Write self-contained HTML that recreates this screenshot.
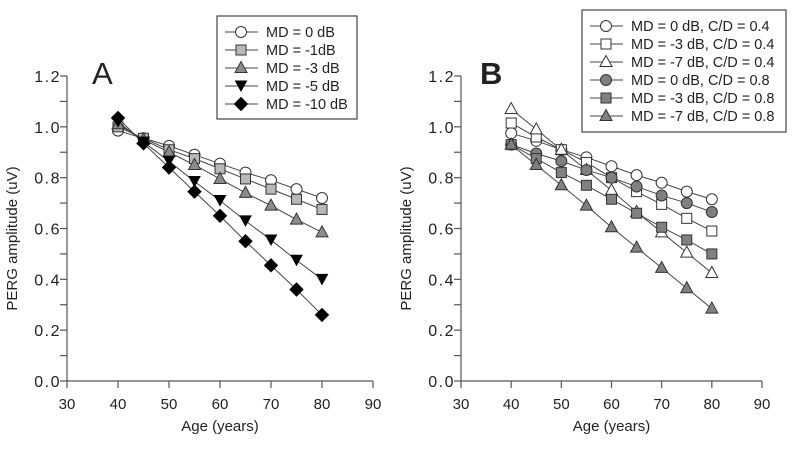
<!DOCTYPE html>
<html><head><meta charset="utf-8"><style>
body{margin:0;background:#fff}
svg text{font-family:"Liberation Sans",Arial,sans-serif;fill:#222}
</style></head><body>
<svg id="c" width="800" height="451" viewBox="0 0 800 451"></svg>
<script>
const ages=[40,45,50,55,60,65,70,75,80];
const xTicks=[30,40,50,60,70,80,90];
const yTicks=[0.0,0.2,0.4,0.6,0.8,1.0,1.2];
const aLabels=["MD = 0 dB","MD = -1dB","MD = -3 dB","MD = -5 dB","MD = -10 dB"];
const aMD0=[0.985,0.955,0.925,0.89,0.855,0.82,0.79,0.755,0.72];
const aMD1=[1.0,0.955,0.91,0.875,0.835,0.795,0.755,0.715,0.675];
const aMD3=[1.01,0.95,0.9,0.85,0.795,0.74,0.69,0.635,0.585];
const aMD5=[1.02,0.94,0.865,0.785,0.71,0.63,0.555,0.475,0.40];
const aMD10=[1.035,0.935,0.84,0.745,0.65,0.55,0.455,0.36,0.26];
const bLabels=["MD = 0 dB, C/D = 0.4","MD = -3 dB, C/D = 0.4","MD = -7 dB, C/D = 0.4","MD = 0 dB, C/D = 0.8","MD = -3 dB, C/D = 0.8","MD = -7 dB, C/D = 0.8"];
const b0lo=[0.975,0.945,0.91,0.88,0.845,0.81,0.78,0.745,0.715];
const b3lo=[1.015,0.96,0.91,0.86,0.80,0.745,0.695,0.64,0.59];
const b7lo=[1.07,0.99,0.91,0.83,0.75,0.665,0.585,0.505,0.425];
const b0hi=[0.93,0.895,0.865,0.83,0.80,0.765,0.73,0.70,0.665];
const b3hi=[0.93,0.875,0.82,0.77,0.715,0.66,0.605,0.555,0.50];
const b7hi=[0.93,0.85,0.77,0.69,0.605,0.525,0.445,0.365,0.285];

const NS="http://www.w3.org/2000/svg";
const svg=document.getElementById('c');
function el(t,a,p){const e=document.createElementNS(NS,t);for(const k in a)e.setAttribute(k,a[k]);(p||svg).appendChild(e);return e;}
function marker(g,shape,fill,cx,cy){
  let e;
  if(shape==='circle')e=el('circle',{cx,cy,r:5.5,fill,stroke:'#333','stroke-width':1},g);
  else if(shape==='square')e=el('rect',{x:cx-5,y:cy-5,width:10,height:10,fill,stroke:'#333','stroke-width':1},g);
  else if(shape==='tri')e=el('polygon',{points:`${cx},${cy-6.5} ${cx-6},${cy+4.5} ${cx+6},${cy+4.5}`,fill,stroke:'#333','stroke-width':1},g);
  else if(shape==='tridown')e=el('polygon',{points:`${cx},${cy+5} ${cx-5.5},${cy-5} ${cx+5.5},${cy-5}`,fill,stroke:'#000','stroke-width':1},g);
  else e=el('polygon',{points:`${cx},${cy-6.5} ${cx+6.5},${cy} ${cx},${cy+6.5} ${cx-6.5},${cy}`,fill,stroke:'#000','stroke-width':1},g);
  return e;
}
function panel(id,x0,x1,y0,y1,series,labels,leg){
  const X=v=>x0+(v-30)/60*(x1-x0);
  const Y=v=>y0-(v/1.2)*(y0-y1);
  const g=el('g',{});
  
  
  const ax=el('g',{stroke:'#555','stroke-width':1.2},g);
  
  
  el('line',{x1:x0,y1:y0,x2:x0,y2:y1},ax);
  el('line',{x1:x0,y1:y0,x2:x1,y2:y0},ax);
  for(let v=0;v<=1.2001;v+=0.1){el('line',{x1:x0-7,y1:Y(v),x2:x0,y2:Y(v)},ax);}
  yTicks.forEach(v=>{const t=el('text',{x:x0-6,y:Y(v)+6,'text-anchor':'end','font-size':16,'letter-spacing':1.5},g);t.textContent=v.toFixed(1);
    });
  xTicks.forEach(v=>{el('line',{x1:X(v),y1:y0,x2:X(v),y2:y0+7},ax);
    const t=el('text',{x:X(v),y:y0+28,'text-anchor':'middle','font-size':15},g);t.textContent=v;
    });
  const xt=el('text',{x:(x0+x1)/2,y:y0+50,'text-anchor':'middle','font-size':15},g);xt.textContent='Age (years)';
  
  const yx=x0-50,yy=(y0+y1)/2+10;
  const yt=el('text',{x:yx,y:yy,'text-anchor':'middle','font-size':15,transform:`rotate(-90 ${yx} ${yy})`},g);yt.textContent='PERG amplitude (uV)';
  
  series.forEach(s=>{
    const sg=el('g',{},g);
    
    
    el('polyline',{points:s.data.map((v,i)=>X(ages[i])+','+Y(v)).join(' '),fill:'none',stroke:'#444','stroke-width':1},sg);
  });
  series.forEach(s=>{
    const sg=el('g',{},g);
    
    
    s.data.forEach((v,i)=>marker(sg,s.shape,s.fill,X(ages[i]),Y(v)));
  });
  const lg=el('g',{},g);
  
  
  el('rect',{x:leg.x,y:leg.y,width:leg.w,height:leg.h,fill:'#fff',stroke:'#444','stroke-width':1.2},lg);
  series.forEach((s,i)=>{
    const e=el('g',{},lg);
    
    
    const cy=leg.first+i*18;
    el('line',{x1:leg.x+8,y1:cy,x2:leg.x+41,y2:cy,stroke:'#444','stroke-width':1},e);
    marker(e,s.shape,s.fill,leg.x+24,cy);
    const t=el('text',{x:leg.x+49,y:cy+5,'font-size':14.5},e);t.textContent=labels[i];
  });
  return {X,Y};
}
panel('a',67,373,381,76,[
  {name:'md0',data:aMD0,shape:'circle',fill:'#fff'},
  {name:'md-1',data:aMD1,shape:'square',fill:'#b8b8b8'},
  {name:'md-3',data:aMD3,shape:'tri',fill:'#8c8c8c'},
  {name:'md-5',data:aMD5,shape:'tridown',fill:'#000'},
  {name:'md-10',data:aMD10,shape:'diamond',fill:'#000'}
],aLabels,{x:217,y:16,w:140,h:103,first:32});
panel('b',461,762,381,76,[
  {name:'md0-cd04',data:b0lo,shape:'circle',fill:'#fff'},
  {name:'md-3-cd04',data:b3lo,shape:'square',fill:'#fff'},
  {name:'md-7-cd04',data:b7lo,shape:'tri',fill:'#fff'},
  {name:'md0-cd08',data:b0hi,shape:'circle',fill:'#808080'},
  {name:'md-3-cd08',data:b3hi,shape:'square',fill:'#808080'},
  {name:'md-7-cd08',data:b7hi,shape:'tri',fill:'#808080'}
],bLabels,{x:582,y:10,w:204,h:122,first:26});
const la=el('text',{x:92,y:84,'font-size':31});la.textContent='A';

const lb=el('text',{x:480,y:84,'font-size':31,'font-weight':'bold'});lb.textContent='B';

</script>
</body></html>
